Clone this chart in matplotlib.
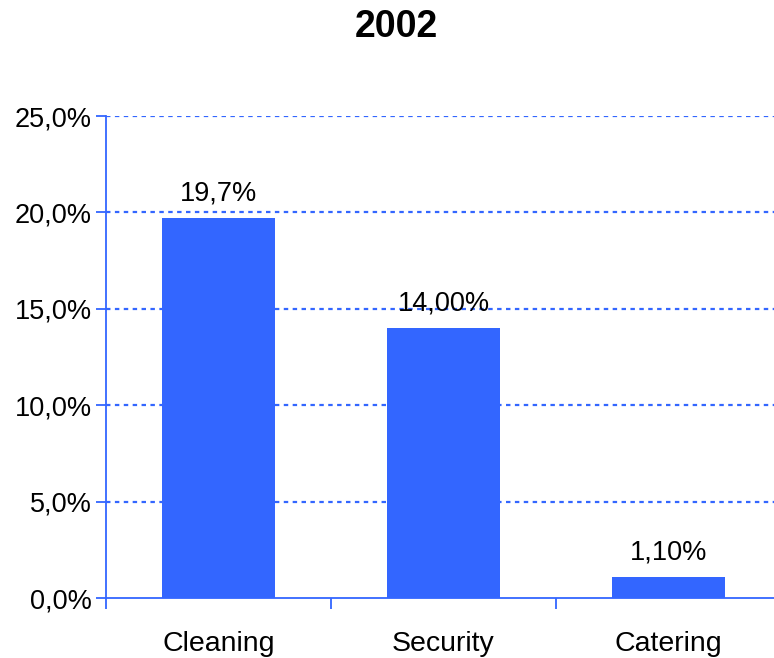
import numpy as np
import matplotlib
matplotlib.use("Agg")
import matplotlib.pyplot as plt

categories = ["Cleaning", "Security", "Catering"]
values = [19.7, 14.0, 1.1]
value_labels = ["19,7%", "14,00%", "1,10%"]
yticks = [0, 5, 10, 15, 20, 25]
ytick_labels = ["0,0%", "5,0%", "10,0%", "15,0%", "20,0%", "25,0%"]

blue = "#3366FF"
plt.rcParams["font.family"] = ["Liberation Sans", "DejaVu Sans"]

fig = plt.figure(figsize=(7.74, 6.58), dpi=100)
ax = fig.add_axes([106 / 774, 60 / 658, 675 / 774, 482 / 658])

x = np.arange(len(categories)) + 0.5
ax.bar(x, values, width=0.5, color=blue, zorder=3)
for xi, v, lab in zip(x, values, value_labels):
    ax.text(xi, v + 0.6, lab, ha="center", va="bottom", fontsize=19.5)

ax.set_xlim(0, 3)
ax.set_ylim(0, 25)
ax.set_yticks(yticks)
ax.set_yticklabels(ytick_labels, fontsize=19.5)
ax.set_xticks([0, 1, 2, 3])
ax.set_xticklabels([])
ax.set_xticks(x, minor=True)
ax.set_xticklabels(categories, minor=True, fontsize=20.5)
ax.tick_params(axis="x", which="minor", length=0, pad=24)
ax.tick_params(axis="x", which="major", length=8, color=blue, width=1.3)
ax.tick_params(axis="y", length=7, color=blue, width=1.3, pad=3)

for yv in yticks[1:]:
    ax.axhline(yv, color=blue, linestyle=(0, (2, 2)), linewidth=1.6, zorder=1)

for s in ["top", "right"]:
    ax.spines[s].set_visible(False)
for s in ["left", "bottom"]:
    ax.spines[s].set_color(blue)
    ax.spines[s].set_linewidth(1.3)

fig.text(396 / 774, 1 - 27 / 658, "2002", ha="center", va="center",
         fontsize=27, fontweight="bold")

fig.savefig("out.png", dpi=100)
